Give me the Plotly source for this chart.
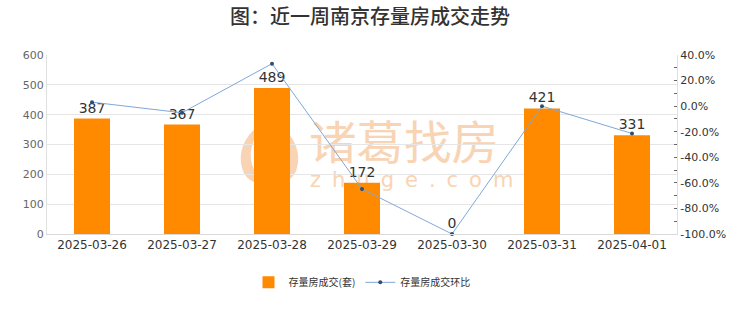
import base64
import plotly.graph_objects as go

dates = ["2025-03-26", "2025-03-27", "2025-03-28", "2025-03-29", "2025-03-30", "2025-03-31", "2025-04-01"]
deals = [387, 367, 489, 172, 0, 421, 331]
ratio = [3.1, -5.2, 33.2, -64.8, -100.0, 0.0, -21.4]
right_ticks = [40, 20, 0, -20, -40, -60, -80, -100]
right_labels = ["40.0%", "20.0%", "0.0%", "-20.0%", "-40.0%", "-60.0%", "-80.0%", "-100.0%"]

FONT = "Noto Sans CJK SC, DejaVu Sans, sans-serif"

# watermark (plot-area sized svg)
wm = (
    '<svg xmlns="http://www.w3.org/2000/svg" width="630" height="179" viewBox="0 0 630 179">'
    '<g fill="#F8D4B4">'
    '<path d="M213 70 C196 82 190 100 196 116 C200 126 212 131 220 128 C206 120 200 104 206 88 C208 80 212 74 213 70 Z"/>'
    '<path d="M232 70 C249 82 255 100 249 116 C245 126 233 131 225 128 C239 120 245 104 239 88 C237 80 233 74 232 70 Z"/>'
    '<path d="M222 80 C214 92 214 108 222 120 C230 108 230 92 222 80 Z" opacity="0.8"/>'
    '<text x="262" y="104" font-family="Noto Sans CJK SC, sans-serif" font-size="46" textLength="190" lengthAdjust="spacingAndGlyphs">诸葛找房</text>'
    '<text x="263" y="132" font-family="DejaVu Sans, sans-serif" font-size="21" letter-spacing="11">zhuge.com</text>'
    '</g></svg>'
)
wm_uri = "data:image/svg+xml;base64," + base64.b64encode(wm.encode("utf-8")).decode()

fig = go.Figure()
fig.add_trace(go.Bar(
    x=dates, y=deals, name="存量房成交(套)",
    marker=dict(color="#FF8A00", line=dict(width=0)),
    width=0.4,
    text=[str(v) for v in deals], textposition="outside",
    textfont=dict(size=14, color="#333333", family="DejaVu Sans, sans-serif"),
    cliponaxis=False,
))
fig.add_trace(go.Scatter(
    x=dates, y=ratio, name="存量房成交环比", yaxis="y2",
    mode="lines+markers",
    line=dict(color="#7FA8D8", width=1),
    marker=dict(size=4, color="#2E4D73"),
    cliponaxis=False,
))

fig.update_layout(
    width=740, height=312,
    margin=dict(l=47, r=63, t=55, b=78),
    paper_bgcolor="white", plot_bgcolor="white",
    font=dict(family=FONT, color="#333333"),
    title=dict(text="图：近一周南京存量房成交走势", x=0.5, xanchor="center", y=0.945, yanchor="middle",
               font=dict(size=20, color="#333333", family=FONT, weight=500)),
    bargap=0.6,
    showlegend=True,
    legend=dict(orientation="h", x=0.5, xanchor="center", y=-0.27, yanchor="middle",
                font=dict(size=10, color="#333333", family=FONT), itemwidth=30,
                tracegroupgap=0),
    xaxis=dict(type="category", showline=True, linecolor="#D9D9D9", linewidth=1,
               tickfont=dict(size=12, color="#333333", family="DejaVu Sans, sans-serif"),
               ticks="", showgrid=False),
    yaxis=dict(range=[0, 600], dtick=100, showgrid=True, gridcolor="#E6E6E6",
               showline=True, linecolor="#E0E0E0", ticks="", zeroline=False,
               tickfont=dict(size=11, color="#666666", family="DejaVu Sans, sans-serif")),
    yaxis2=dict(overlaying="y", side="right", range=[-100, 40],
                tickvals=right_ticks, ticktext=right_labels,
                showgrid=False, zeroline=False, showline=True, linecolor="#E0E0E0",
                ticks="inside", ticklen=3, tickcolor="#666666",
                minor=dict(dtick=10, ticks="inside", ticklen=3, tickcolor="#666666"),
                tickfont=dict(size=11, color="#333333", family="DejaVu Sans, sans-serif")),
    images=[dict(source=wm_uri, xref="paper", yref="paper", x=0, y=1, sizex=1, sizey=1,
                 xanchor="left", yanchor="top", sizing="stretch", layer="below")],
)

fig.write_html("out.html")
